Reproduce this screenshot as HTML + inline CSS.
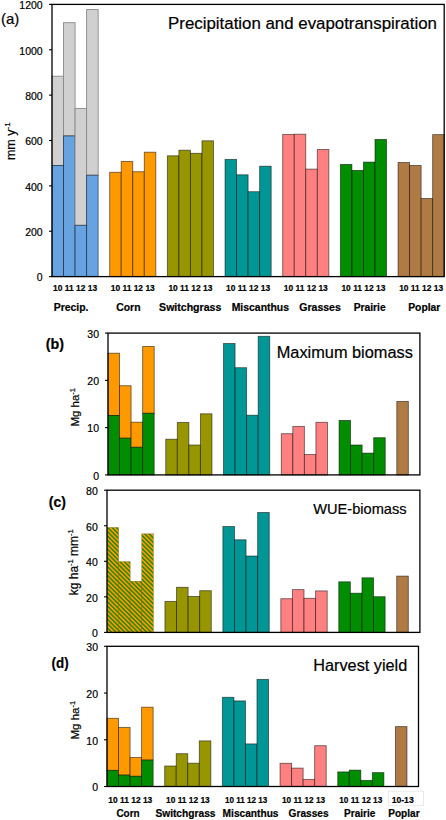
<!DOCTYPE html>
<html><head><meta charset="utf-8">
<style>
html,body{margin:0;padding:0;background:#fff;}
body{width:446px;height:820px;overflow:hidden;}
svg{display:block;}
text{font-family:"Liberation Sans",sans-serif;fill:#000;stroke:#000;stroke-width:0.2px;}
</style></head><body>
<svg width="446" height="820" viewBox="0 0 446 820">
<defs>
<pattern id="hatch" patternUnits="userSpaceOnUse" width="3.1" height="3.1" patternTransform="rotate(-45)">
<rect x="0" y="0" width="3.1" height="3.1" fill="#ff9900"/>
<rect x="0" y="0" width="1.55" height="3.1" fill="#2e8a00"/>
</pattern>
</defs>
<rect x="0" y="0" width="446" height="820" fill="#fff"/>
<rect x="52.00" y="76.20" width="11.54" height="89.30" fill="#d0d0d0" stroke="#8a8a8a" stroke-width="0.9" stroke-opacity="1" />
<rect x="52.00" y="165.50" width="11.54" height="111.10" fill="#66a3e0" stroke="#000" stroke-width="0.9" stroke-opacity="0.55" />
<rect x="63.54" y="22.70" width="11.54" height="113.20" fill="#d0d0d0" stroke="#8a8a8a" stroke-width="0.9" stroke-opacity="1" />
<rect x="63.54" y="135.90" width="11.54" height="140.70" fill="#66a3e0" stroke="#000" stroke-width="0.9" stroke-opacity="0.55" />
<rect x="75.07" y="108.40" width="11.54" height="116.90" fill="#d0d0d0" stroke="#8a8a8a" stroke-width="0.9" stroke-opacity="1" />
<rect x="75.07" y="225.30" width="11.54" height="51.30" fill="#66a3e0" stroke="#000" stroke-width="0.9" stroke-opacity="0.55" />
<rect x="86.61" y="9.50" width="11.54" height="165.70" fill="#d0d0d0" stroke="#8a8a8a" stroke-width="0.9" stroke-opacity="1" />
<rect x="86.61" y="175.20" width="11.54" height="101.40" fill="#66a3e0" stroke="#000" stroke-width="0.9" stroke-opacity="0.55" />
<rect x="109.68" y="172.30" width="11.54" height="104.30" fill="#ff9900" stroke="#000" stroke-width="0.9" stroke-opacity="0.55" />
<rect x="121.21" y="161.40" width="11.54" height="115.20" fill="#ff9900" stroke="#000" stroke-width="0.9" stroke-opacity="0.55" />
<rect x="132.75" y="171.70" width="11.54" height="104.90" fill="#ff9900" stroke="#000" stroke-width="0.9" stroke-opacity="0.55" />
<rect x="144.28" y="152.20" width="11.54" height="124.40" fill="#ff9900" stroke="#000" stroke-width="0.9" stroke-opacity="0.55" />
<rect x="167.35" y="155.80" width="11.54" height="120.80" fill="#979600" stroke="#000" stroke-width="0.9" stroke-opacity="0.55" />
<rect x="178.89" y="150.20" width="11.54" height="126.40" fill="#979600" stroke="#000" stroke-width="0.9" stroke-opacity="0.55" />
<rect x="190.42" y="153.30" width="11.54" height="123.30" fill="#979600" stroke="#000" stroke-width="0.9" stroke-opacity="0.55" />
<rect x="201.96" y="140.80" width="11.54" height="135.80" fill="#979600" stroke="#000" stroke-width="0.9" stroke-opacity="0.55" />
<rect x="225.03" y="159.40" width="11.54" height="117.20" fill="#009696" stroke="#000" stroke-width="0.9" stroke-opacity="0.55" />
<rect x="236.56" y="174.80" width="11.54" height="101.80" fill="#009696" stroke="#000" stroke-width="0.9" stroke-opacity="0.55" />
<rect x="248.10" y="191.70" width="11.54" height="84.90" fill="#009696" stroke="#000" stroke-width="0.9" stroke-opacity="0.55" />
<rect x="259.64" y="166.20" width="11.54" height="110.40" fill="#009696" stroke="#000" stroke-width="0.9" stroke-opacity="0.55" />
<rect x="282.71" y="134.40" width="11.54" height="142.20" fill="#ff8080" stroke="#000" stroke-width="0.9" stroke-opacity="0.55" />
<rect x="294.24" y="134.20" width="11.54" height="142.40" fill="#ff8080" stroke="#000" stroke-width="0.9" stroke-opacity="0.55" />
<rect x="305.78" y="169.10" width="11.54" height="107.50" fill="#ff8080" stroke="#000" stroke-width="0.9" stroke-opacity="0.55" />
<rect x="317.31" y="149.50" width="11.54" height="127.10" fill="#ff8080" stroke="#000" stroke-width="0.9" stroke-opacity="0.55" />
<rect x="340.38" y="164.40" width="11.54" height="112.20" fill="#008e00" stroke="#000" stroke-width="0.9" stroke-opacity="0.55" />
<rect x="351.92" y="170.40" width="11.54" height="106.20" fill="#008e00" stroke="#000" stroke-width="0.9" stroke-opacity="0.55" />
<rect x="363.45" y="162.10" width="11.54" height="114.50" fill="#008e00" stroke="#000" stroke-width="0.9" stroke-opacity="0.55" />
<rect x="374.99" y="139.40" width="11.54" height="137.20" fill="#008e00" stroke="#000" stroke-width="0.9" stroke-opacity="0.55" />
<rect x="398.06" y="162.50" width="11.54" height="114.10" fill="#b07a45" stroke="#000" stroke-width="0.9" stroke-opacity="0.55" />
<rect x="409.59" y="165.50" width="11.54" height="111.10" fill="#b07a45" stroke="#000" stroke-width="0.9" stroke-opacity="0.55" />
<rect x="421.13" y="198.50" width="11.54" height="78.10" fill="#b07a45" stroke="#000" stroke-width="0.9" stroke-opacity="0.55" />
<rect x="432.66" y="134.60" width="11.54" height="142.00" fill="#b07a45" stroke="#000" stroke-width="0.9" stroke-opacity="0.55" />
<rect x="52.0" y="4.4" width="392.2" height="272.20000000000005" fill="none" stroke="#000" stroke-width="1.3"/>
<line x1="49.0" y1="276.60" x2="52.0" y2="276.60" stroke="#000" stroke-width="1.1"/>
<text x="42.70" y="281.36" font-size="10.5" text-anchor="end" >0</text>
<line x1="49.0" y1="231.23" x2="52.0" y2="231.23" stroke="#000" stroke-width="1.1"/>
<text x="42.70" y="235.99" font-size="10.5" text-anchor="end" >200</text>
<line x1="49.0" y1="185.87" x2="52.0" y2="185.87" stroke="#000" stroke-width="1.1"/>
<text x="42.70" y="190.63" font-size="10.5" text-anchor="end" >400</text>
<line x1="49.0" y1="140.50" x2="52.0" y2="140.50" stroke="#000" stroke-width="1.1"/>
<text x="42.70" y="145.26" font-size="10.5" text-anchor="end" >600</text>
<line x1="49.0" y1="95.13" x2="52.0" y2="95.13" stroke="#000" stroke-width="1.1"/>
<text x="42.70" y="99.89" font-size="10.5" text-anchor="end" >800</text>
<line x1="49.0" y1="49.77" x2="52.0" y2="49.77" stroke="#000" stroke-width="1.1"/>
<text x="42.70" y="54.53" font-size="10.5" text-anchor="end" >1000</text>
<line x1="49.0" y1="4.40" x2="52.0" y2="4.40" stroke="#000" stroke-width="1.1"/>
<text x="42.70" y="9.16" font-size="10.5" text-anchor="end" >1200</text>
<text x="1.00" y="24.30" font-size="15" text-anchor="start" >(a)</text>
<text x="168.10" y="28.80" font-size="16.8" text-anchor="start" textLength="268.80" lengthAdjust="spacingAndGlyphs" >Precipitation and evapotranspiration</text>
<text transform="translate(15.20,141.20) rotate(-90)" x="0" y="0" font-size="12.5" text-anchor="middle">mm y<tspan font-size="8" dy="-5">-1</tspan></text>
<text x="75.07" y="291.10" font-size="9.2" font-weight="bold" text-anchor="middle" textLength="44.00" lengthAdjust="spacingAndGlyphs" >10 11 12 13</text>
<text x="132.75" y="291.10" font-size="9.2" font-weight="bold" text-anchor="middle" textLength="44.00" lengthAdjust="spacingAndGlyphs" >10 11 12 13</text>
<text x="190.42" y="291.10" font-size="9.2" font-weight="bold" text-anchor="middle" textLength="44.00" lengthAdjust="spacingAndGlyphs" >10 11 12 13</text>
<text x="248.10" y="291.10" font-size="9.2" font-weight="bold" text-anchor="middle" textLength="44.00" lengthAdjust="spacingAndGlyphs" >10 11 12 13</text>
<text x="305.78" y="291.10" font-size="9.2" font-weight="bold" text-anchor="middle" textLength="44.00" lengthAdjust="spacingAndGlyphs" >10 11 12 13</text>
<text x="363.45" y="291.10" font-size="9.2" font-weight="bold" text-anchor="middle" textLength="44.00" lengthAdjust="spacingAndGlyphs" >10 11 12 13</text>
<text x="421.13" y="291.10" font-size="9.2" font-weight="bold" text-anchor="middle" textLength="44.00" lengthAdjust="spacingAndGlyphs" >10 11 12 13</text>
<text x="53.70" y="311.30" font-size="10.4" font-weight="bold" text-anchor="start" textLength="34.70" lengthAdjust="spacingAndGlyphs" >Precip.</text>
<text x="116.30" y="311.30" font-size="10.4" font-weight="bold" text-anchor="start" textLength="24.20" lengthAdjust="spacingAndGlyphs" >Corn</text>
<text x="159.10" y="311.30" font-size="10.4" font-weight="bold" text-anchor="start" textLength="62.20" lengthAdjust="spacingAndGlyphs" >Switchgrass</text>
<text x="231.70" y="311.30" font-size="10.4" font-weight="bold" text-anchor="start" textLength="57.30" lengthAdjust="spacingAndGlyphs" >Miscanthus</text>
<text x="299.30" y="311.30" font-size="10.4" font-weight="bold" text-anchor="start" textLength="41.50" lengthAdjust="spacingAndGlyphs" >Grasses</text>
<text x="353.70" y="311.30" font-size="10.4" font-weight="bold" text-anchor="start" textLength="32.00" lengthAdjust="spacingAndGlyphs" >Prairie</text>
<text x="408.20" y="311.30" font-size="10.4" font-weight="bold" text-anchor="start" textLength="32.20" lengthAdjust="spacingAndGlyphs" >Poplar</text>
<rect x="108.00" y="353.20" width="11.55" height="62.30" fill="#ff9900" stroke="#000" stroke-width="0.9" stroke-opacity="0.55" />
<rect x="108.00" y="415.50" width="11.55" height="59.40" fill="#008e00" stroke="#000" stroke-width="0.9" stroke-opacity="0.55" />
<rect x="119.55" y="385.70" width="11.55" height="52.50" fill="#ff9900" stroke="#000" stroke-width="0.9" stroke-opacity="0.55" />
<rect x="119.55" y="438.20" width="11.55" height="36.70" fill="#008e00" stroke="#000" stroke-width="0.9" stroke-opacity="0.55" />
<rect x="131.10" y="422.20" width="11.55" height="25.10" fill="#ff9900" stroke="#000" stroke-width="0.9" stroke-opacity="0.55" />
<rect x="131.10" y="447.30" width="11.55" height="27.60" fill="#008e00" stroke="#000" stroke-width="0.9" stroke-opacity="0.55" />
<rect x="142.66" y="346.50" width="11.55" height="66.80" fill="#ff9900" stroke="#000" stroke-width="0.9" stroke-opacity="0.55" />
<rect x="142.66" y="413.30" width="11.55" height="61.60" fill="#008e00" stroke="#000" stroke-width="0.9" stroke-opacity="0.55" />
<rect x="165.76" y="439.20" width="11.55" height="35.70" fill="#979600" stroke="#000" stroke-width="0.9" stroke-opacity="0.55" />
<rect x="177.31" y="422.40" width="11.55" height="52.50" fill="#979600" stroke="#000" stroke-width="0.9" stroke-opacity="0.55" />
<rect x="188.86" y="445.00" width="11.55" height="29.90" fill="#979600" stroke="#000" stroke-width="0.9" stroke-opacity="0.55" />
<rect x="200.41" y="413.80" width="11.55" height="61.10" fill="#979600" stroke="#000" stroke-width="0.9" stroke-opacity="0.55" />
<rect x="223.52" y="343.50" width="11.55" height="131.40" fill="#009696" stroke="#000" stroke-width="0.9" stroke-opacity="0.55" />
<rect x="235.07" y="367.70" width="11.55" height="107.20" fill="#009696" stroke="#000" stroke-width="0.9" stroke-opacity="0.55" />
<rect x="246.62" y="415.20" width="11.55" height="59.70" fill="#009696" stroke="#000" stroke-width="0.9" stroke-opacity="0.55" />
<rect x="258.17" y="336.30" width="11.55" height="138.60" fill="#009696" stroke="#000" stroke-width="0.9" stroke-opacity="0.55" />
<rect x="281.28" y="433.70" width="11.55" height="41.20" fill="#ff8080" stroke="#000" stroke-width="0.9" stroke-opacity="0.55" />
<rect x="292.83" y="426.40" width="11.55" height="48.50" fill="#ff8080" stroke="#000" stroke-width="0.9" stroke-opacity="0.55" />
<rect x="304.38" y="454.50" width="11.55" height="20.40" fill="#ff8080" stroke="#000" stroke-width="0.9" stroke-opacity="0.55" />
<rect x="315.93" y="422.30" width="11.55" height="52.60" fill="#ff8080" stroke="#000" stroke-width="0.9" stroke-opacity="0.55" />
<rect x="339.04" y="420.40" width="11.55" height="54.50" fill="#008e00" stroke="#000" stroke-width="0.9" stroke-opacity="0.55" />
<rect x="350.59" y="445.00" width="11.55" height="29.90" fill="#008e00" stroke="#000" stroke-width="0.9" stroke-opacity="0.55" />
<rect x="362.14" y="453.10" width="11.55" height="21.80" fill="#008e00" stroke="#000" stroke-width="0.9" stroke-opacity="0.55" />
<rect x="373.69" y="437.70" width="11.55" height="37.20" fill="#008e00" stroke="#000" stroke-width="0.9" stroke-opacity="0.55" />
<rect x="396.80" y="401.40" width="11.55" height="73.50" fill="#b07a45" stroke="#000" stroke-width="0.9" stroke-opacity="0.55" />
<rect x="108.0" y="333.1" width="311.9" height="141.79999999999995" fill="none" stroke="#000" stroke-width="1.3"/>
<line x1="105.0" y1="474.90" x2="108.0" y2="474.90" stroke="#000" stroke-width="1.1"/>
<text x="99.00" y="479.66" font-size="10.5" text-anchor="end" >0</text>
<line x1="105.0" y1="427.63" x2="108.0" y2="427.63" stroke="#000" stroke-width="1.1"/>
<text x="99.00" y="432.39" font-size="10.5" text-anchor="end" >10</text>
<line x1="105.0" y1="380.37" x2="108.0" y2="380.37" stroke="#000" stroke-width="1.1"/>
<text x="99.00" y="385.13" font-size="10.5" text-anchor="end" >20</text>
<line x1="105.0" y1="333.10" x2="108.0" y2="333.10" stroke="#000" stroke-width="1.1"/>
<text x="99.00" y="337.86" font-size="10.5" text-anchor="end" >30</text>
<text x="45.80" y="349.30" font-size="14" font-weight="bold" text-anchor="start" textLength="18.30" lengthAdjust="spacingAndGlyphs" >(b)</text>
<text x="276.70" y="357.80" font-size="16.3" text-anchor="start" textLength="136.20" lengthAdjust="spacingAndGlyphs" >Maximum biomass</text>
<text transform="translate(79.10,407.30) rotate(-90)" x="0" y="0" font-size="11.5" text-anchor="middle">Mg ha<tspan font-size="7.5" dy="-4.5">-1</tspan></text>
<rect x="107.00" y="527.50" width="11.59" height="104.90" fill="url(#hatch)" stroke="#6b4a00" stroke-width="0.6" stroke-opacity="0.55" />
<rect x="118.59" y="561.70" width="11.59" height="70.70" fill="url(#hatch)" stroke="#6b4a00" stroke-width="0.6" stroke-opacity="0.55" />
<rect x="130.18" y="581.30" width="11.59" height="51.10" fill="url(#hatch)" stroke="#6b4a00" stroke-width="0.6" stroke-opacity="0.55" />
<rect x="141.77" y="533.80" width="11.59" height="98.60" fill="url(#hatch)" stroke="#6b4a00" stroke-width="0.6" stroke-opacity="0.55" />
<rect x="164.94" y="601.40" width="11.59" height="31.00" fill="#979600" stroke="#000" stroke-width="0.9" stroke-opacity="0.55" />
<rect x="176.53" y="587.30" width="11.59" height="45.10" fill="#979600" stroke="#000" stroke-width="0.9" stroke-opacity="0.55" />
<rect x="188.12" y="596.40" width="11.59" height="36.00" fill="#979600" stroke="#000" stroke-width="0.9" stroke-opacity="0.55" />
<rect x="199.71" y="590.70" width="11.59" height="41.70" fill="#979600" stroke="#000" stroke-width="0.9" stroke-opacity="0.55" />
<rect x="222.89" y="526.50" width="11.59" height="105.90" fill="#009696" stroke="#000" stroke-width="0.9" stroke-opacity="0.55" />
<rect x="234.48" y="539.80" width="11.59" height="92.60" fill="#009696" stroke="#000" stroke-width="0.9" stroke-opacity="0.55" />
<rect x="246.07" y="556.00" width="11.59" height="76.40" fill="#009696" stroke="#000" stroke-width="0.9" stroke-opacity="0.55" />
<rect x="257.66" y="512.50" width="11.59" height="119.90" fill="#009696" stroke="#000" stroke-width="0.9" stroke-opacity="0.55" />
<rect x="280.83" y="598.70" width="11.59" height="33.70" fill="#ff8080" stroke="#000" stroke-width="0.9" stroke-opacity="0.55" />
<rect x="292.42" y="589.60" width="11.59" height="42.80" fill="#ff8080" stroke="#000" stroke-width="0.9" stroke-opacity="0.55" />
<rect x="304.01" y="598.30" width="11.59" height="34.10" fill="#ff8080" stroke="#000" stroke-width="0.9" stroke-opacity="0.55" />
<rect x="315.60" y="590.90" width="11.59" height="41.50" fill="#ff8080" stroke="#000" stroke-width="0.9" stroke-opacity="0.55" />
<rect x="338.78" y="581.80" width="11.59" height="50.60" fill="#008e00" stroke="#000" stroke-width="0.9" stroke-opacity="0.55" />
<rect x="350.37" y="593.20" width="11.59" height="39.20" fill="#008e00" stroke="#000" stroke-width="0.9" stroke-opacity="0.55" />
<rect x="361.96" y="577.80" width="11.59" height="54.60" fill="#008e00" stroke="#000" stroke-width="0.9" stroke-opacity="0.55" />
<rect x="373.54" y="596.70" width="11.59" height="35.70" fill="#008e00" stroke="#000" stroke-width="0.9" stroke-opacity="0.55" />
<rect x="396.72" y="576.10" width="11.59" height="56.30" fill="#b07a45" stroke="#000" stroke-width="0.9" stroke-opacity="0.55" />
<rect x="107.0" y="490.2" width="312.9" height="142.2" fill="none" stroke="#000" stroke-width="1.3"/>
<line x1="104.0" y1="632.40" x2="107.0" y2="632.40" stroke="#000" stroke-width="1.1"/>
<text x="97.80" y="637.16" font-size="10.5" text-anchor="end" >0</text>
<line x1="104.0" y1="596.85" x2="107.0" y2="596.85" stroke="#000" stroke-width="1.1"/>
<text x="97.80" y="601.61" font-size="10.5" text-anchor="end" >20</text>
<line x1="104.0" y1="561.30" x2="107.0" y2="561.30" stroke="#000" stroke-width="1.1"/>
<text x="97.80" y="566.06" font-size="10.5" text-anchor="end" >40</text>
<line x1="104.0" y1="525.75" x2="107.0" y2="525.75" stroke="#000" stroke-width="1.1"/>
<text x="97.80" y="530.51" font-size="10.5" text-anchor="end" >60</text>
<line x1="104.0" y1="490.20" x2="107.0" y2="490.20" stroke="#000" stroke-width="1.1"/>
<text x="97.80" y="494.96" font-size="10.5" text-anchor="end" >80</text>
<text x="48.80" y="506.70" font-size="14" font-weight="bold" text-anchor="start" textLength="17.10" lengthAdjust="spacingAndGlyphs" >(c)</text>
<text x="313.30" y="513.70" font-size="14.3" text-anchor="start" textLength="93.30" lengthAdjust="spacingAndGlyphs" >WUE-biomass</text>
<text transform="translate(77.60,562.25) rotate(-90)" x="0" y="0" font-size="12" text-anchor="middle">kg ha<tspan font-size="7.5" dy="-4.5">-1</tspan><tspan dy="4.5"> mm</tspan><tspan font-size="7.5" dy="-4.5">-1</tspan></text>
<rect x="107.00" y="718.30" width="11.54" height="52.10" fill="#ff9900" stroke="#000" stroke-width="0.9" stroke-opacity="0.55" />
<rect x="107.00" y="770.40" width="11.54" height="16.10" fill="#008e00" stroke="#000" stroke-width="0.9" stroke-opacity="0.55" />
<rect x="118.54" y="727.40" width="11.54" height="47.70" fill="#ff9900" stroke="#000" stroke-width="0.9" stroke-opacity="0.55" />
<rect x="118.54" y="775.10" width="11.54" height="11.40" fill="#008e00" stroke="#000" stroke-width="0.9" stroke-opacity="0.55" />
<rect x="130.07" y="757.40" width="11.54" height="18.90" fill="#ff9900" stroke="#000" stroke-width="0.9" stroke-opacity="0.55" />
<rect x="130.07" y="776.30" width="11.54" height="10.20" fill="#008e00" stroke="#000" stroke-width="0.9" stroke-opacity="0.55" />
<rect x="141.61" y="707.20" width="11.54" height="52.90" fill="#ff9900" stroke="#000" stroke-width="0.9" stroke-opacity="0.55" />
<rect x="141.61" y="760.10" width="11.54" height="26.40" fill="#008e00" stroke="#000" stroke-width="0.9" stroke-opacity="0.55" />
<rect x="164.69" y="766.00" width="11.54" height="20.50" fill="#979600" stroke="#000" stroke-width="0.9" stroke-opacity="0.55" />
<rect x="176.22" y="753.70" width="11.54" height="32.80" fill="#979600" stroke="#000" stroke-width="0.9" stroke-opacity="0.55" />
<rect x="187.76" y="763.20" width="11.54" height="23.30" fill="#979600" stroke="#000" stroke-width="0.9" stroke-opacity="0.55" />
<rect x="199.30" y="740.90" width="11.54" height="45.60" fill="#979600" stroke="#000" stroke-width="0.9" stroke-opacity="0.55" />
<rect x="222.37" y="697.30" width="11.54" height="89.20" fill="#009696" stroke="#000" stroke-width="0.9" stroke-opacity="0.55" />
<rect x="233.91" y="700.90" width="11.54" height="85.60" fill="#009696" stroke="#000" stroke-width="0.9" stroke-opacity="0.55" />
<rect x="245.44" y="743.90" width="11.54" height="42.60" fill="#009696" stroke="#000" stroke-width="0.9" stroke-opacity="0.55" />
<rect x="256.98" y="679.40" width="11.54" height="107.10" fill="#009696" stroke="#000" stroke-width="0.9" stroke-opacity="0.55" />
<rect x="280.06" y="763.30" width="11.54" height="23.20" fill="#ff8080" stroke="#000" stroke-width="0.9" stroke-opacity="0.55" />
<rect x="291.59" y="768.10" width="11.54" height="18.40" fill="#ff8080" stroke="#000" stroke-width="0.9" stroke-opacity="0.55" />
<rect x="303.13" y="779.40" width="11.54" height="7.10" fill="#ff8080" stroke="#000" stroke-width="0.9" stroke-opacity="0.55" />
<rect x="314.67" y="745.70" width="11.54" height="40.80" fill="#ff8080" stroke="#000" stroke-width="0.9" stroke-opacity="0.55" />
<rect x="337.74" y="771.90" width="11.54" height="14.60" fill="#008e00" stroke="#000" stroke-width="0.9" stroke-opacity="0.55" />
<rect x="349.28" y="770.10" width="11.54" height="16.40" fill="#008e00" stroke="#000" stroke-width="0.9" stroke-opacity="0.55" />
<rect x="360.81" y="780.40" width="11.54" height="6.10" fill="#008e00" stroke="#000" stroke-width="0.9" stroke-opacity="0.55" />
<rect x="372.35" y="772.60" width="11.54" height="13.90" fill="#008e00" stroke="#000" stroke-width="0.9" stroke-opacity="0.55" />
<rect x="395.43" y="726.60" width="11.54" height="59.90" fill="#b07a45" stroke="#000" stroke-width="0.9" stroke-opacity="0.55" />
<rect x="107.0" y="646.3" width="311.5" height="140.20000000000005" fill="none" stroke="#000" stroke-width="1.3"/>
<line x1="104.0" y1="786.50" x2="107.0" y2="786.50" stroke="#000" stroke-width="1.1"/>
<text x="98.00" y="791.26" font-size="10.5" text-anchor="end" >0</text>
<line x1="104.0" y1="739.77" x2="107.0" y2="739.77" stroke="#000" stroke-width="1.1"/>
<text x="98.00" y="744.53" font-size="10.5" text-anchor="end" >10</text>
<line x1="104.0" y1="693.03" x2="107.0" y2="693.03" stroke="#000" stroke-width="1.1"/>
<text x="98.00" y="697.79" font-size="10.5" text-anchor="end" >20</text>
<line x1="104.0" y1="646.30" x2="107.0" y2="646.30" stroke="#000" stroke-width="1.1"/>
<text x="98.00" y="651.06" font-size="10.5" text-anchor="end" >30</text>
<text x="51.50" y="668.00" font-size="14" font-weight="bold" text-anchor="start" textLength="17.10" lengthAdjust="spacingAndGlyphs" >(d)</text>
<text x="313.30" y="670.50" font-size="16" text-anchor="start" textLength="93.90" lengthAdjust="spacingAndGlyphs" >Harvest yield</text>
<text transform="translate(79.40,720.20) rotate(-90)" x="0" y="0" font-size="11.5" text-anchor="middle">Mg ha<tspan font-size="7.5" dy="-4.5">-1</tspan></text>
<text x="108.30" y="802.70" font-size="9.2" font-weight="bold" text-anchor="start" textLength="44.00" lengthAdjust="spacingAndGlyphs" >10 11 12 13</text>
<text x="166.10" y="802.70" font-size="9.2" font-weight="bold" text-anchor="start" textLength="43.60" lengthAdjust="spacingAndGlyphs" >10 11 12 13</text>
<text x="225.00" y="802.70" font-size="9.2" font-weight="bold" text-anchor="start" textLength="42.20" lengthAdjust="spacingAndGlyphs" >10 11 12 13</text>
<text x="282.00" y="802.70" font-size="9.2" font-weight="bold" text-anchor="start" textLength="43.10" lengthAdjust="spacingAndGlyphs" >10 11 12 13</text>
<text x="339.20" y="802.70" font-size="9.2" font-weight="bold" text-anchor="start" textLength="43.10" lengthAdjust="spacingAndGlyphs" >10 11 12 13</text>
<rect x="388.6" y="791.2" width="35" height="14.1" fill="#fff" stroke="#e4e4e4" stroke-width="0.8"/>
<text x="391.70" y="802.70" font-size="9.2" font-weight="bold" text-anchor="start" textLength="22.00" lengthAdjust="spacingAndGlyphs" >10-13</text>
<text x="116.40" y="816.70" font-size="10.2" font-weight="bold" text-anchor="start" textLength="23.30" lengthAdjust="spacingAndGlyphs" >Corn</text>
<text x="155.40" y="816.70" font-size="10.2" font-weight="bold" text-anchor="start" textLength="60.10" lengthAdjust="spacingAndGlyphs" >Switchgrass</text>
<text x="222.60" y="816.70" font-size="10.2" font-weight="bold" text-anchor="start" textLength="55.90" lengthAdjust="spacingAndGlyphs" >Miscanthus</text>
<text x="288.60" y="816.70" font-size="10.2" font-weight="bold" text-anchor="start" textLength="40.00" lengthAdjust="spacingAndGlyphs" >Grasses</text>
<text x="344.10" y="816.70" font-size="10.2" font-weight="bold" text-anchor="start" textLength="31.30" lengthAdjust="spacingAndGlyphs" >Prairie</text>
<text x="388.20" y="816.70" font-size="10.2" font-weight="bold" text-anchor="start" textLength="31.40" lengthAdjust="spacingAndGlyphs" >Poplar</text>
</svg>
</body></html>
